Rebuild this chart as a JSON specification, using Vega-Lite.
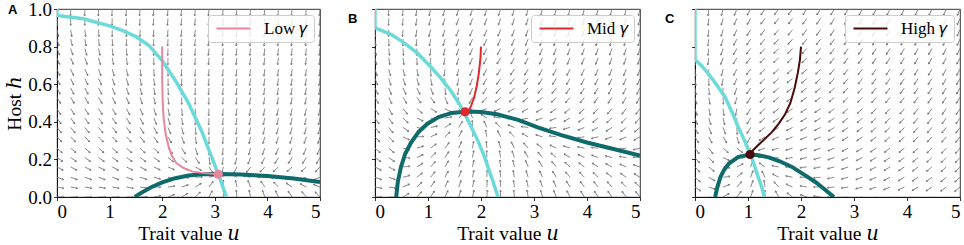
{
"$schema":"https://vega.github.io/schema/vega-lite/v6.json",
"background":"white",
"padding":{"left":4,"top":-1,"right":2,"bottom":0},
"bounds":"flush",
"spacing":55,
"config":{
 "view":{"stroke":"black","strokeWidth":0.8},
 "axis":{"labelFont":"Liberation Serif","labelFontSize":19,"titleFont":"Liberation Serif, DejaVu Serif","titleFontSize":19.5,"titleFontWeight":"normal","labelColor":"black","titleColor":"black","tickColor":"black","domainColor":"black","tickSize":3.5,"tickWidth":0.8,"domainWidth":0.8,"grid":false,"labelPadding":2,"titlePadding":3},
 "legend":{"orient":"top-right","offset":6,"padding":5,"fillColor":"rgba(255,255,255,0.8)","strokeColor":"#cccccc","cornerRadius":3,"labelFont":"Liberation Serif, DejaVu Serif","labelFontSize":17,"labelColor":"black","symbolStrokeWidth":2,"symbolType":"M-1,0L5.8,0","symbolSize":100,"labelOffset":34},
 "title":{"font":"Liberation Sans","fontSize":13,"fontWeight":"bold","anchor":"start","frame":"group","offset":-6,"baseline":"alphabetic","color":"black","dy":11}
},
"resolve":{"scale":{"color":"independent"},"legend":{"color":"independent"}},
"datasets":{
"cy":[
{"p":"A","i":0,"u":0,"h":1},{"p":"A","i":1,"u":0,"h":0.965},{"p":"A","i":2,"u":0.5,"h":0.948},{"p":"A","i":3,"u":1.0,"h":0.91},{"p":"A","i":4,"u":1.25,"h":0.885},{"p":"A","i":5,"u":1.5,"h":0.853},{"p":"A","i":6,"u":1.75,"h":0.805},{"p":"A","i":7,"u":2.0,"h":0.725},{"p":"A","i":8,"u":2.25,"h":0.62},{"p":"A","i":9,"u":2.5,"h":0.5},{"p":"A","i":10,"u":2.75,"h":0.35},{"p":"A","i":11,"u":3.0,"h":0.17},{"p":"A","i":12,"u":3.12,"h":0.08},{"p":"A","i":13,"u":3.22,"h":0},
{"p":"B","i":0,"u":0,"h":1},{"p":"B","i":1,"u":0,"h":0.9},{"p":"B","i":2,"u":0.3,"h":0.865},{"p":"B","i":3,"u":0.55,"h":0.82},{"p":"B","i":4,"u":0.8,"h":0.765},{"p":"B","i":5,"u":1.06,"h":0.69},{"p":"B","i":6,"u":1.25,"h":0.63},{"p":"B","i":7,"u":1.43,"h":0.565},{"p":"B","i":8,"u":1.58,"h":0.5},{"p":"B","i":9,"u":1.68,"h":0.45},{"p":"B","i":10,"u":1.82,"h":0.37},{"p":"B","i":11,"u":1.94,"h":0.3},{"p":"B","i":12,"u":2.05,"h":0.225},{"p":"B","i":13,"u":2.13,"h":0.16},{"p":"B","i":14,"u":2.23,"h":0.08},{"p":"B","i":15,"u":2.32,"h":0},
{"p":"C","i":0,"u":0,"h":1},{"p":"C","i":1,"u":0,"h":0.73},{"p":"C","i":2,"u":0.12,"h":0.7},{"p":"C","i":3,"u":0.25,"h":0.657},{"p":"C","i":4,"u":0.4,"h":0.6},{"p":"C","i":5,"u":0.57,"h":0.53},{"p":"C","i":6,"u":0.7,"h":0.45},{"p":"C","i":7,"u":0.82,"h":0.37},{"p":"C","i":8,"u":0.92,"h":0.31},{"p":"C","i":9,"u":1.01,"h":0.25},{"p":"C","i":10,"u":1.1,"h":0.185},{"p":"C","i":11,"u":1.17,"h":0.125},{"p":"C","i":12,"u":1.25,"h":0.06},{"p":"C","i":13,"u":1.31,"h":0}
],
"te":[
{"p":"A","i":0,"u":1.48,"h":0},{"p":"A","i":1,"u":1.6,"h":0.022},{"p":"A","i":2,"u":1.8,"h":0.053},{"p":"A","i":3,"u":2.0,"h":0.078},{"p":"A","i":4,"u":2.25,"h":0.1},{"p":"A","i":5,"u":2.5,"h":0.114},{"p":"A","i":6,"u":2.75,"h":0.121},{"p":"A","i":7,"u":3.1,"h":0.122},{"p":"A","i":8,"u":3.5,"h":0.12},{"p":"A","i":9,"u":4.0,"h":0.112},{"p":"A","i":10,"u":4.5,"h":0.098},{"p":"A","i":11,"u":5.0,"h":0.08},
{"p":"B","i":0,"u":0.4,"h":0},{"p":"B","i":1,"u":0.43,"h":0.08},{"p":"B","i":2,"u":0.49,"h":0.16},{"p":"B","i":3,"u":0.57,"h":0.23},{"p":"B","i":4,"u":0.68,"h":0.29},{"p":"B","i":5,"u":0.82,"h":0.345},{"p":"B","i":6,"u":0.99,"h":0.39},{"p":"B","i":7,"u":1.2,"h":0.425},{"p":"B","i":8,"u":1.45,"h":0.447},{"p":"B","i":9,"u":1.75,"h":0.455},{"p":"B","i":10,"u":2.0,"h":0.452},{"p":"B","i":11,"u":2.3,"h":0.44},{"p":"B","i":12,"u":2.7,"h":0.41},{"p":"B","i":13,"u":3.07,"h":0.37},{"p":"B","i":14,"u":3.5,"h":0.33},{"p":"B","i":15,"u":4.0,"h":0.29},{"p":"B","i":16,"u":4.5,"h":0.255},{"p":"B","i":17,"u":5.0,"h":0.22},
{"p":"C","i":0,"u":0.38,"h":0},{"p":"C","i":1,"u":0.42,"h":0.05},{"p":"C","i":2,"u":0.48,"h":0.107},{"p":"C","i":3,"u":0.55,"h":0.145},{"p":"C","i":4,"u":0.64,"h":0.178},{"p":"C","i":5,"u":0.82,"h":0.213},{"p":"C","i":6,"u":1.04,"h":0.226},{"p":"C","i":7,"u":1.2,"h":0.222},{"p":"C","i":8,"u":1.39,"h":0.211},{"p":"C","i":9,"u":1.6,"h":0.19},{"p":"C","i":10,"u":1.83,"h":0.16},{"p":"C","i":11,"u":2.05,"h":0.12},{"p":"C","i":12,"u":2.27,"h":0.08},{"p":"C","i":13,"u":2.45,"h":0.04},{"p":"C","i":14,"u":2.62,"h":0}
],
"tr":[
{"p":"A","g":"Low 𝛾","i":0,"u":2.0,"h":0.8},{"p":"A","g":"Low 𝛾","i":1,"u":2.0,"h":0.62},{"p":"A","g":"Low 𝛾","i":2,"u":2.01,"h":0.5},{"p":"A","g":"Low 𝛾","i":3,"u":2.03,"h":0.41},{"p":"A","g":"Low 𝛾","i":4,"u":2.07,"h":0.33},{"p":"A","g":"Low 𝛾","i":5,"u":2.12,"h":0.27},{"p":"A","g":"Low 𝛾","i":6,"u":2.18,"h":0.22},{"p":"A","g":"Low 𝛾","i":7,"u":2.27,"h":0.18},{"p":"A","g":"Low 𝛾","i":8,"u":2.4,"h":0.155},{"p":"A","g":"Low 𝛾","i":9,"u":2.58,"h":0.135},{"p":"A","g":"Low 𝛾","i":10,"u":2.8,"h":0.127},{"p":"A","g":"Low 𝛾","i":11,"u":3.065,"h":0.121},
{"p":"B","g":"Mid 𝛾","i":0,"u":2.0,"h":0.8},{"p":"B","g":"Mid 𝛾","i":1,"u":1.99,"h":0.74},{"p":"B","g":"Mid 𝛾","i":2,"u":1.96,"h":0.66},{"p":"B","g":"Mid 𝛾","i":3,"u":1.92,"h":0.59},{"p":"B","g":"Mid 𝛾","i":4,"u":1.87,"h":0.53},{"p":"B","g":"Mid 𝛾","i":5,"u":1.82,"h":0.49},{"p":"B","g":"Mid 𝛾","i":6,"u":1.78,"h":0.465},{"p":"B","g":"Mid 𝛾","i":7,"u":1.74,"h":0.455},{"p":"B","g":"Mid 𝛾","i":8,"u":1.7,"h":0.453},
{"p":"C","g":"High 𝛾","i":0,"u":2.0,"h":0.8},{"p":"C","g":"High 𝛾","i":1,"u":1.98,"h":0.73},{"p":"C","g":"High 𝛾","i":2,"u":1.94,"h":0.66},{"p":"C","g":"High 𝛾","i":3,"u":1.88,"h":0.58},{"p":"C","g":"High 𝛾","i":4,"u":1.8,"h":0.5},{"p":"C","g":"High 𝛾","i":5,"u":1.7,"h":0.44},{"p":"C","g":"High 𝛾","i":6,"u":1.58,"h":0.39},{"p":"C","g":"High 𝛾","i":7,"u":1.45,"h":0.345},{"p":"C","g":"High 𝛾","i":8,"u":1.3,"h":0.305},{"p":"C","g":"High 𝛾","i":9,"u":1.17,"h":0.27},{"p":"C","g":"High 𝛾","i":10,"u":1.08,"h":0.245},{"p":"C","g":"High 𝛾","i":11,"u":1.04,"h":0.226}
],
"eq":[{"p":"A","u":3.065,"h":0.121},{"p":"B","u":1.7,"h":0.453},{"p":"C","u":1.04,"h":0.226}],
"qA":[
{"u":0,"h":1,"a":180},{"u":0.26,"h":1,"a":181},{"u":0.53,"h":1,"a":182},{"u":0.79,"h":1,"a":182},{"u":1.05,"h":1,"a":183},{"u":1.32,"h":1,"a":184},{"u":1.58,"h":1,"a":185},{"u":1.84,"h":1,"a":185},{"u":2.11,"h":1,"a":185},{"u":2.37,"h":1,"a":185},{"u":2.63,"h":1,"a":185},{"u":2.89,"h":1,"a":185},{"u":3.16,"h":1,"a":185},{"u":3.42,"h":1,"a":185},{"u":3.68,"h":1,"a":185},{"u":3.95,"h":1,"a":185},{"u":4.21,"h":1,"a":185},{"u":4.47,"h":1,"a":185},{"u":4.74,"h":1,"a":185},{"u":5,"h":1,"a":185},
{"u":0,"h":0.95,"a":176},{"u":0.26,"h":0.95,"a":180},{"u":0.53,"h":0.95,"a":181},{"u":0.79,"h":0.95,"a":181},{"u":1.05,"h":0.95,"a":182},{"u":1.32,"h":0.95,"a":183},{"u":1.58,"h":0.95,"a":184},{"u":1.84,"h":0.95,"a":185},{"u":2.11,"h":0.95,"a":185},{"u":2.37,"h":0.95,"a":185},{"u":2.63,"h":0.95,"a":185},{"u":2.89,"h":0.95,"a":185},{"u":3.16,"h":0.95,"a":185},{"u":3.42,"h":0.95,"a":185},{"u":3.68,"h":0.95,"a":185},{"u":3.95,"h":0.95,"a":185},{"u":4.21,"h":0.95,"a":185},{"u":4.47,"h":0.95,"a":185},{"u":4.74,"h":0.95,"a":185},{"u":5,"h":0.95,"a":185},
{"u":0,"h":0.89,"a":167},{"u":0.26,"h":0.89,"a":171},{"u":0.53,"h":0.89,"a":174},{"u":0.79,"h":0.89,"a":177},{"u":1.05,"h":0.89,"a":180},{"u":1.32,"h":0.89,"a":181},{"u":1.58,"h":0.89,"a":182},{"u":1.84,"h":0.89,"a":183},{"u":2.11,"h":0.89,"a":184},{"u":2.37,"h":0.89,"a":185},{"u":2.63,"h":0.89,"a":186},{"u":2.89,"h":0.89,"a":186},{"u":3.16,"h":0.89,"a":186},{"u":3.42,"h":0.89,"a":186},{"u":3.68,"h":0.89,"a":186},{"u":3.95,"h":0.89,"a":186},{"u":4.21,"h":0.89,"a":186},{"u":4.47,"h":0.89,"a":186},{"u":4.74,"h":0.89,"a":186},{"u":5,"h":0.89,"a":186},
{"u":0,"h":0.84,"a":163},{"u":0.26,"h":0.84,"a":166},{"u":0.53,"h":0.84,"a":170},{"u":0.79,"h":0.84,"a":173},{"u":1.05,"h":0.84,"a":177},{"u":1.32,"h":0.84,"a":180},{"u":1.58,"h":0.84,"a":181},{"u":1.84,"h":0.84,"a":182},{"u":2.11,"h":0.84,"a":183},{"u":2.37,"h":0.84,"a":184},{"u":2.63,"h":0.84,"a":185},{"u":2.89,"h":0.84,"a":186},{"u":3.16,"h":0.84,"a":186},{"u":3.42,"h":0.84,"a":186},{"u":3.68,"h":0.84,"a":186},{"u":3.95,"h":0.84,"a":186},{"u":4.21,"h":0.84,"a":186},{"u":4.47,"h":0.84,"a":186},{"u":4.74,"h":0.84,"a":186},{"u":5,"h":0.84,"a":186},
{"u":0,"h":0.79,"a":159},{"u":0.26,"h":0.79,"a":161},{"u":0.53,"h":0.79,"a":165},{"u":0.79,"h":0.79,"a":168},{"u":1.05,"h":0.79,"a":172},{"u":1.32,"h":0.79,"a":176},{"u":1.58,"h":0.79,"a":180},{"u":1.84,"h":0.79,"a":181},{"u":2.11,"h":0.79,"a":182},{"u":2.37,"h":0.79,"a":183},{"u":2.63,"h":0.79,"a":184},{"u":2.89,"h":0.79,"a":186},{"u":3.16,"h":0.79,"a":186},{"u":3.42,"h":0.79,"a":186},{"u":3.68,"h":0.79,"a":186},{"u":3.95,"h":0.79,"a":186},{"u":4.21,"h":0.79,"a":186},{"u":4.47,"h":0.79,"a":186},{"u":4.74,"h":0.79,"a":186},{"u":5,"h":0.79,"a":186},
{"u":0,"h":0.74,"a":158},{"u":0.26,"h":0.74,"a":158},{"u":0.53,"h":0.74,"a":161},{"u":0.79,"h":0.74,"a":165},{"u":1.05,"h":0.74,"a":169},{"u":1.32,"h":0.74,"a":173},{"u":1.58,"h":0.74,"a":177},{"u":1.84,"h":0.74,"a":180},{"u":2.11,"h":0.74,"a":181},{"u":2.37,"h":0.74,"a":183},{"u":2.63,"h":0.74,"a":184},{"u":2.89,"h":0.74,"a":185},{"u":3.16,"h":0.74,"a":186},{"u":3.42,"h":0.74,"a":187},{"u":3.68,"h":0.74,"a":187},{"u":3.95,"h":0.74,"a":187},{"u":4.21,"h":0.74,"a":187},{"u":4.47,"h":0.74,"a":187},{"u":4.74,"h":0.74,"a":187},{"u":5,"h":0.74,"a":187},
{"u":0,"h":0.68,"a":156},{"u":0.26,"h":0.68,"a":156},{"u":0.53,"h":0.68,"a":156},{"u":0.79,"h":0.68,"a":160},{"u":1.05,"h":0.68,"a":164},{"u":1.32,"h":0.68,"a":168},{"u":1.58,"h":0.68,"a":172},{"u":1.84,"h":0.68,"a":176},{"u":2.11,"h":0.68,"a":180},{"u":2.37,"h":0.68,"a":182},{"u":2.63,"h":0.68,"a":183},{"u":2.89,"h":0.68,"a":184},{"u":3.16,"h":0.68,"a":186},{"u":3.42,"h":0.68,"a":187},{"u":3.68,"h":0.68,"a":187},{"u":3.95,"h":0.68,"a":187},{"u":4.21,"h":0.68,"a":187},{"u":4.47,"h":0.68,"a":187},{"u":4.74,"h":0.68,"a":187},{"u":5,"h":0.68,"a":187},
{"u":0,"h":0.63,"a":155},{"u":0.26,"h":0.63,"a":155},{"u":0.53,"h":0.63,"a":155},{"u":0.79,"h":0.63,"a":156},{"u":1.05,"h":0.63,"a":160},{"u":1.32,"h":0.63,"a":164},{"u":1.58,"h":0.63,"a":169},{"u":1.84,"h":0.63,"a":173},{"u":2.11,"h":0.63,"a":178},{"u":2.37,"h":0.63,"a":181},{"u":2.63,"h":0.63,"a":182},{"u":2.89,"h":0.63,"a":184},{"u":3.16,"h":0.63,"a":185},{"u":3.42,"h":0.63,"a":187},{"u":3.68,"h":0.63,"a":188},{"u":3.95,"h":0.63,"a":188},{"u":4.21,"h":0.63,"a":188},{"u":4.47,"h":0.63,"a":188},{"u":4.74,"h":0.63,"a":188},{"u":5,"h":0.63,"a":188},
{"u":0,"h":0.58,"a":153},{"u":0.26,"h":0.58,"a":153},{"u":0.53,"h":0.58,"a":153},{"u":0.79,"h":0.58,"a":153},{"u":1.05,"h":0.58,"a":157},{"u":1.32,"h":0.58,"a":161},{"u":1.58,"h":0.58,"a":166},{"u":1.84,"h":0.58,"a":170},{"u":2.11,"h":0.58,"a":176},{"u":2.37,"h":0.58,"a":180},{"u":2.63,"h":0.58,"a":182},{"u":2.89,"h":0.58,"a":184},{"u":3.16,"h":0.58,"a":185},{"u":3.42,"h":0.58,"a":187},{"u":3.68,"h":0.58,"a":188},{"u":3.95,"h":0.58,"a":189},{"u":4.21,"h":0.58,"a":189},{"u":4.47,"h":0.58,"a":189},{"u":4.74,"h":0.58,"a":189},{"u":5,"h":0.58,"a":189},
{"u":0,"h":0.53,"a":150},{"u":0.26,"h":0.53,"a":150},{"u":0.53,"h":0.53,"a":150},{"u":0.79,"h":0.53,"a":150},{"u":1.05,"h":0.53,"a":153},{"u":1.32,"h":0.53,"a":158},{"u":1.58,"h":0.53,"a":162},{"u":1.84,"h":0.53,"a":167},{"u":2.11,"h":0.53,"a":173},{"u":2.37,"h":0.53,"a":179},{"u":2.63,"h":0.53,"a":182},{"u":2.89,"h":0.53,"a":183},{"u":3.16,"h":0.53,"a":185},{"u":3.42,"h":0.53,"a":187},{"u":3.68,"h":0.53,"a":189},{"u":3.95,"h":0.53,"a":190},{"u":4.21,"h":0.53,"a":190},{"u":4.47,"h":0.53,"a":190},{"u":4.74,"h":0.53,"a":190},{"u":5,"h":0.53,"a":190},
{"u":0,"h":0.47,"a":148},{"u":0.26,"h":0.47,"a":148},{"u":0.53,"h":0.47,"a":148},{"u":0.79,"h":0.47,"a":148},{"u":1.05,"h":0.47,"a":148},{"u":1.32,"h":0.47,"a":152},{"u":1.58,"h":0.47,"a":157},{"u":1.84,"h":0.47,"a":161},{"u":2.11,"h":0.47,"a":167},{"u":2.37,"h":0.47,"a":174},{"u":2.63,"h":0.47,"a":181},{"u":2.89,"h":0.47,"a":183},{"u":3.16,"h":0.47,"a":185},{"u":3.42,"h":0.47,"a":187},{"u":3.68,"h":0.47,"a":189},{"u":3.95,"h":0.47,"a":191},{"u":4.21,"h":0.47,"a":192},{"u":4.47,"h":0.47,"a":192},{"u":4.74,"h":0.47,"a":192},{"u":5,"h":0.47,"a":192},
{"u":0,"h":0.42,"a":145},{"u":0.26,"h":0.42,"a":145},{"u":0.53,"h":0.42,"a":145},{"u":0.79,"h":0.42,"a":145},{"u":1.05,"h":0.42,"a":145},{"u":1.32,"h":0.42,"a":148},{"u":1.58,"h":0.42,"a":153},{"u":1.84,"h":0.42,"a":157},{"u":2.11,"h":0.42,"a":163},{"u":2.37,"h":0.42,"a":171},{"u":2.63,"h":0.42,"a":180},{"u":2.89,"h":0.42,"a":183},{"u":3.16,"h":0.42,"a":185},{"u":3.42,"h":0.42,"a":188},{"u":3.68,"h":0.42,"a":190},{"u":3.95,"h":0.42,"a":192},{"u":4.21,"h":0.42,"a":193},{"u":4.47,"h":0.42,"a":193},{"u":4.74,"h":0.42,"a":193},{"u":5,"h":0.42,"a":193},
{"u":0,"h":0.37,"a":141},{"u":0.26,"h":0.37,"a":141},{"u":0.53,"h":0.37,"a":141},{"u":0.79,"h":0.37,"a":141},{"u":1.05,"h":0.37,"a":141},{"u":1.32,"h":0.37,"a":143},{"u":1.58,"h":0.37,"a":148},{"u":1.84,"h":0.37,"a":151},{"u":2.11,"h":0.37,"a":157},{"u":2.37,"h":0.37,"a":165},{"u":2.63,"h":0.37,"a":176},{"u":2.89,"h":0.37,"a":182},{"u":3.16,"h":0.37,"a":185},{"u":3.42,"h":0.37,"a":188},{"u":3.68,"h":0.37,"a":191},{"u":3.95,"h":0.37,"a":193},{"u":4.21,"h":0.37,"a":196},{"u":4.47,"h":0.37,"a":196},{"u":4.74,"h":0.37,"a":196},{"u":5,"h":0.37,"a":195},
{"u":0,"h":0.32,"a":137},{"u":0.26,"h":0.32,"a":137},{"u":0.53,"h":0.32,"a":137},{"u":0.79,"h":0.32,"a":137},{"u":1.05,"h":0.32,"a":137},{"u":1.32,"h":0.32,"a":137},{"u":1.58,"h":0.32,"a":142},{"u":1.84,"h":0.32,"a":145},{"u":2.11,"h":0.32,"a":150},{"u":2.37,"h":0.32,"a":159},{"u":2.63,"h":0.32,"a":171},{"u":2.89,"h":0.32,"a":181},{"u":3.16,"h":0.32,"a":185},{"u":3.42,"h":0.32,"a":189},{"u":3.68,"h":0.32,"a":192},{"u":3.95,"h":0.32,"a":195},{"u":4.21,"h":0.32,"a":198},{"u":4.47,"h":0.32,"a":198},{"u":4.74,"h":0.32,"a":198},{"u":5,"h":0.32,"a":197},
{"u":0,"h":0.26,"a":131},{"u":0.26,"h":0.26,"a":131},{"u":0.53,"h":0.26,"a":131},{"u":0.79,"h":0.26,"a":131},{"u":1.05,"h":0.26,"a":131},{"u":1.32,"h":0.26,"a":131},{"u":1.58,"h":0.26,"a":134},{"u":1.84,"h":0.26,"a":135},{"u":2.11,"h":0.26,"a":140},{"u":2.37,"h":0.26,"a":148},{"u":2.63,"h":0.26,"a":161},{"u":2.89,"h":0.26,"a":180},{"u":3.16,"h":0.26,"a":186},{"u":3.42,"h":0.26,"a":191},{"u":3.68,"h":0.26,"a":195},{"u":3.95,"h":0.26,"a":200},{"u":4.21,"h":0.26,"a":203},{"u":4.47,"h":0.26,"a":204},{"u":4.74,"h":0.26,"a":204},{"u":5,"h":0.26,"a":203},
{"u":0,"h":0.21,"a":125},{"u":0.26,"h":0.21,"a":125},{"u":0.53,"h":0.21,"a":125},{"u":0.79,"h":0.21,"a":125},{"u":1.05,"h":0.21,"a":125},{"u":1.32,"h":0.21,"a":125},{"u":1.58,"h":0.21,"a":126},{"u":1.84,"h":0.21,"a":126},{"u":2.11,"h":0.21,"a":128},{"u":2.37,"h":0.21,"a":133},{"u":2.63,"h":0.21,"a":146},{"u":2.89,"h":0.21,"a":172},{"u":3.16,"h":0.21,"a":187},{"u":3.42,"h":0.21,"a":195},{"u":3.68,"h":0.21,"a":201},{"u":3.95,"h":0.21,"a":207},{"u":4.21,"h":0.21,"a":211},{"u":4.47,"h":0.21,"a":213},{"u":4.74,"h":0.21,"a":212},{"u":5,"h":0.21,"a":210},
{"u":0,"h":0.16,"a":118},{"u":0.26,"h":0.16,"a":118},{"u":0.53,"h":0.16,"a":118},{"u":0.79,"h":0.16,"a":118},{"u":1.05,"h":0.16,"a":118},{"u":1.32,"h":0.16,"a":118},{"u":1.58,"h":0.16,"a":118},{"u":1.84,"h":0.16,"a":115},{"u":2.11,"h":0.16,"a":114},{"u":2.37,"h":0.16,"a":115},{"u":2.63,"h":0.16,"a":120},{"u":2.89,"h":0.16,"a":147},{"u":3.16,"h":0.16,"a":190},{"u":3.42,"h":0.16,"a":206},{"u":3.68,"h":0.16,"a":216},{"u":3.95,"h":0.16,"a":223},{"u":4.21,"h":0.16,"a":227},{"u":4.47,"h":0.16,"a":228},{"u":4.74,"h":0.16,"a":227},{"u":5,"h":0.16,"a":223},
{"u":0,"h":0.105,"a":110},{"u":0.26,"h":0.105,"a":110},{"u":0.53,"h":0.105,"a":110},{"u":0.79,"h":0.105,"a":110},{"u":1.05,"h":0.105,"a":110},{"u":1.32,"h":0.105,"a":110},{"u":1.58,"h":0.105,"a":108},{"u":1.84,"h":0.105,"a":104},{"u":2.11,"h":0.105,"a":99},{"u":2.37,"h":0.105,"a":94},{"u":2.63,"h":0.105,"a":87},{"u":2.89,"h":0.105,"a":75},{"u":3.16,"h":0.105,"a":338},{"u":3.42,"h":0.105,"a":300},{"u":3.68,"h":0.105,"a":280},{"u":3.95,"h":0.105,"a":270},{"u":4.21,"h":0.105,"a":265},{"u":4.47,"h":0.105,"a":258},{"u":4.74,"h":0.105,"a":255},{"u":5,"h":0.105,"a":248},
{"u":0,"h":0.053,"a":100},{"u":0.26,"h":0.053,"a":100},{"u":0.53,"h":0.053,"a":100},{"u":0.79,"h":0.053,"a":100},{"u":1.05,"h":0.053,"a":100},{"u":1.32,"h":0.053,"a":100},{"u":1.58,"h":0.053,"a":98},{"u":1.84,"h":0.053,"a":90},{"u":2.11,"h":0.053,"a":82},{"u":2.37,"h":0.053,"a":72},{"u":2.63,"h":0.053,"a":58},{"u":2.89,"h":0.053,"a":37},{"u":3.16,"h":0.053,"a":0},{"u":3.42,"h":0.053,"a":349},{"u":3.68,"h":0.053,"a":338},{"u":3.95,"h":0.053,"a":326},{"u":4.21,"h":0.053,"a":316},{"u":4.47,"h":0.053,"a":304},{"u":4.74,"h":0.053,"a":298},{"u":5,"h":0.053,"a":292},
{"u":0,"h":0,"a":90},{"u":0.26,"h":0,"a":90},{"u":0.53,"h":0,"a":90},{"u":0.79,"h":0,"a":90},{"u":1.05,"h":0,"a":90},{"u":1.32,"h":0,"a":90},{"u":1.58,"h":0,"a":88},{"u":1.84,"h":0,"a":80},{"u":2.11,"h":0,"a":70},{"u":2.37,"h":0,"a":59},{"u":2.63,"h":0,"a":45},{"u":2.89,"h":0,"a":27},{"u":3.16,"h":0,"a":4},{"u":3.42,"h":0,"a":355},{"u":3.68,"h":0,"a":348},{"u":3.95,"h":0,"a":341},{"u":4.21,"h":0,"a":334},{"u":4.47,"h":0,"a":326},{"u":4.74,"h":0,"a":320},{"u":5,"h":0,"a":317}
],
"qB":[
{"u":0,"h":1,"a":180},{"u":0.26,"h":1,"a":182},{"u":0.53,"h":1,"a":185},{"u":0.79,"h":1,"a":188},{"u":1.05,"h":1,"a":192},{"u":1.32,"h":1,"a":196},{"u":1.58,"h":1,"a":198},{"u":1.84,"h":1,"a":198},{"u":2.11,"h":1,"a":198},{"u":2.37,"h":1,"a":198},{"u":2.63,"h":1,"a":197},{"u":2.89,"h":1,"a":196},{"u":3.16,"h":1,"a":196},{"u":3.42,"h":1,"a":195},{"u":3.68,"h":1,"a":195},{"u":3.95,"h":1,"a":194},{"u":4.21,"h":1,"a":194},{"u":4.47,"h":1,"a":194},{"u":4.74,"h":1,"a":193},{"u":5,"h":1,"a":193},
{"u":0,"h":0.95,"a":180},{"u":0.26,"h":0.95,"a":182},{"u":0.53,"h":0.95,"a":185},{"u":0.79,"h":0.95,"a":189},{"u":1.05,"h":0.95,"a":193},{"u":1.32,"h":0.95,"a":197},{"u":1.58,"h":0.95,"a":200},{"u":1.84,"h":0.95,"a":200},{"u":2.11,"h":0.95,"a":200},{"u":2.37,"h":0.95,"a":199},{"u":2.63,"h":0.95,"a":198},{"u":2.89,"h":0.95,"a":198},{"u":3.16,"h":0.95,"a":197},{"u":3.42,"h":0.95,"a":197},{"u":3.68,"h":0.95,"a":196},{"u":3.95,"h":0.95,"a":195},{"u":4.21,"h":0.95,"a":195},{"u":4.47,"h":0.95,"a":195},{"u":4.74,"h":0.95,"a":194},{"u":5,"h":0.95,"a":194},
{"u":0,"h":0.89,"a":179},{"u":0.26,"h":0.89,"a":181},{"u":0.53,"h":0.89,"a":185},{"u":0.79,"h":0.89,"a":189},{"u":1.05,"h":0.89,"a":194},{"u":1.32,"h":0.89,"a":198},{"u":1.58,"h":0.89,"a":202},{"u":1.84,"h":0.89,"a":202},{"u":2.11,"h":0.89,"a":202},{"u":2.37,"h":0.89,"a":202},{"u":2.63,"h":0.89,"a":200},{"u":2.89,"h":0.89,"a":200},{"u":3.16,"h":0.89,"a":199},{"u":3.42,"h":0.89,"a":198},{"u":3.68,"h":0.89,"a":198},{"u":3.95,"h":0.89,"a":197},{"u":4.21,"h":0.89,"a":196},{"u":4.47,"h":0.89,"a":196},{"u":4.74,"h":0.89,"a":195},{"u":5,"h":0.89,"a":195},
{"u":0,"h":0.84,"a":174},{"u":0.26,"h":0.84,"a":178},{"u":0.53,"h":0.84,"a":181},{"u":0.79,"h":0.84,"a":185},{"u":1.05,"h":0.84,"a":190},{"u":1.32,"h":0.84,"a":195},{"u":1.58,"h":0.84,"a":200},{"u":1.84,"h":0.84,"a":204},{"u":2.11,"h":0.84,"a":205},{"u":2.37,"h":0.84,"a":204},{"u":2.63,"h":0.84,"a":203},{"u":2.89,"h":0.84,"a":202},{"u":3.16,"h":0.84,"a":201},{"u":3.42,"h":0.84,"a":200},{"u":3.68,"h":0.84,"a":199},{"u":3.95,"h":0.84,"a":198},{"u":4.21,"h":0.84,"a":198},{"u":4.47,"h":0.84,"a":197},{"u":4.74,"h":0.84,"a":197},{"u":5,"h":0.84,"a":196},
{"u":0,"h":0.79,"a":170},{"u":0.26,"h":0.79,"a":174},{"u":0.53,"h":0.79,"a":177},{"u":0.79,"h":0.79,"a":182},{"u":1.05,"h":0.79,"a":187},{"u":1.32,"h":0.79,"a":192},{"u":1.58,"h":0.79,"a":198},{"u":1.84,"h":0.79,"a":203},{"u":2.11,"h":0.79,"a":207},{"u":2.37,"h":0.79,"a":207},{"u":2.63,"h":0.79,"a":205},{"u":2.89,"h":0.79,"a":204},{"u":3.16,"h":0.79,"a":203},{"u":3.42,"h":0.79,"a":202},{"u":3.68,"h":0.79,"a":201},{"u":3.95,"h":0.79,"a":200},{"u":4.21,"h":0.79,"a":199},{"u":4.47,"h":0.79,"a":199},{"u":4.74,"h":0.79,"a":198},{"u":5,"h":0.79,"a":198},
{"u":0,"h":0.74,"a":167},{"u":0.26,"h":0.74,"a":171},{"u":0.53,"h":0.74,"a":173},{"u":0.79,"h":0.74,"a":178},{"u":1.05,"h":0.74,"a":184},{"u":1.32,"h":0.74,"a":190},{"u":1.58,"h":0.74,"a":197},{"u":1.84,"h":0.74,"a":203},{"u":2.11,"h":0.74,"a":207},{"u":2.37,"h":0.74,"a":211},{"u":2.63,"h":0.74,"a":209},{"u":2.89,"h":0.74,"a":207},{"u":3.16,"h":0.74,"a":206},{"u":3.42,"h":0.74,"a":205},{"u":3.68,"h":0.74,"a":203},{"u":3.95,"h":0.74,"a":202},{"u":4.21,"h":0.74,"a":201},{"u":4.47,"h":0.74,"a":200},{"u":4.74,"h":0.74,"a":200},{"u":5,"h":0.74,"a":199},
{"u":0,"h":0.68,"a":162},{"u":0.26,"h":0.68,"a":166},{"u":0.53,"h":0.68,"a":167},{"u":0.79,"h":0.68,"a":170},{"u":1.05,"h":0.68,"a":178},{"u":1.32,"h":0.68,"a":187},{"u":1.58,"h":0.68,"a":194},{"u":1.84,"h":0.68,"a":202},{"u":2.11,"h":0.68,"a":208},{"u":2.37,"h":0.68,"a":212},{"u":2.63,"h":0.68,"a":214},{"u":2.89,"h":0.68,"a":211},{"u":3.16,"h":0.68,"a":210},{"u":3.42,"h":0.68,"a":208},{"u":3.68,"h":0.68,"a":207},{"u":3.95,"h":0.68,"a":205},{"u":4.21,"h":0.68,"a":204},{"u":4.47,"h":0.68,"a":203},{"u":4.74,"h":0.68,"a":202},{"u":5,"h":0.68,"a":201},
{"u":0,"h":0.63,"a":158},{"u":0.26,"h":0.63,"a":163},{"u":0.53,"h":0.63,"a":162},{"u":0.79,"h":0.63,"a":163},{"u":1.05,"h":0.63,"a":170},{"u":1.32,"h":0.63,"a":182},{"u":1.58,"h":0.63,"a":192},{"u":1.84,"h":0.63,"a":202},{"u":2.11,"h":0.63,"a":210},{"u":2.37,"h":0.63,"a":214},{"u":2.63,"h":0.63,"a":217},{"u":2.89,"h":0.63,"a":216},{"u":3.16,"h":0.63,"a":214},{"u":3.42,"h":0.63,"a":212},{"u":3.68,"h":0.63,"a":210},{"u":3.95,"h":0.63,"a":208},{"u":4.21,"h":0.63,"a":207},{"u":4.47,"h":0.63,"a":206},{"u":4.74,"h":0.63,"a":205},{"u":5,"h":0.63,"a":204},
{"u":0,"h":0.58,"a":154},{"u":0.26,"h":0.58,"a":159},{"u":0.53,"h":0.58,"a":156},{"u":0.79,"h":0.58,"a":154},{"u":1.05,"h":0.58,"a":159},{"u":1.32,"h":0.58,"a":174},{"u":1.58,"h":0.58,"a":189},{"u":1.84,"h":0.58,"a":203},{"u":2.11,"h":0.58,"a":213},{"u":2.37,"h":0.58,"a":219},{"u":2.63,"h":0.58,"a":221},{"u":2.89,"h":0.58,"a":223},{"u":3.16,"h":0.58,"a":220},{"u":3.42,"h":0.58,"a":218},{"u":3.68,"h":0.58,"a":215},{"u":3.95,"h":0.58,"a":212},{"u":4.21,"h":0.58,"a":211},{"u":4.47,"h":0.58,"a":209},{"u":4.74,"h":0.58,"a":208},{"u":5,"h":0.58,"a":207},
{"u":0,"h":0.53,"a":151},{"u":0.26,"h":0.53,"a":155},{"u":0.53,"h":0.53,"a":150},{"u":0.79,"h":0.53,"a":144},{"u":1.05,"h":0.53,"a":145},{"u":1.32,"h":0.53,"a":158},{"u":1.58,"h":0.53,"a":186},{"u":1.84,"h":0.53,"a":208},{"u":2.11,"h":0.53,"a":222},{"u":2.37,"h":0.53,"a":227},{"u":2.63,"h":0.53,"a":228},{"u":2.89,"h":0.53,"a":229},{"u":3.16,"h":0.53,"a":228},{"u":3.42,"h":0.53,"a":224},{"u":3.68,"h":0.53,"a":221},{"u":3.95,"h":0.53,"a":218},{"u":4.21,"h":0.53,"a":215},{"u":4.47,"h":0.53,"a":213},{"u":4.74,"h":0.53,"a":211},{"u":5,"h":0.53,"a":210},
{"u":0,"h":0.47,"a":148},{"u":0.26,"h":0.47,"a":150},{"u":0.53,"h":0.47,"a":142},{"u":0.79,"h":0.47,"a":130},{"u":1.05,"h":0.47,"a":121},{"u":1.32,"h":0.47,"a":119},{"u":1.58,"h":0.47,"a":149},{"u":1.84,"h":0.47,"a":238},{"u":2.11,"h":0.47,"a":250},{"u":2.37,"h":0.47,"a":248},{"u":2.63,"h":0.47,"a":243},{"u":2.89,"h":0.47,"a":241},{"u":3.16,"h":0.47,"a":240},{"u":3.42,"h":0.47,"a":235},{"u":3.68,"h":0.47,"a":230},{"u":3.95,"h":0.47,"a":226},{"u":4.21,"h":0.47,"a":223},{"u":4.47,"h":0.47,"a":220},{"u":4.74,"h":0.47,"a":218},{"u":5,"h":0.47,"a":216},
{"u":0,"h":0.42,"a":145},{"u":0.26,"h":0.42,"a":145},{"u":0.53,"h":0.42,"a":134},{"u":0.79,"h":0.42,"a":116},{"u":1.05,"h":0.42,"a":98},{"u":1.32,"h":0.42,"a":80},{"u":1.58,"h":0.42,"a":45},{"u":1.84,"h":0.42,"a":340},{"u":2.11,"h":0.42,"a":303},{"u":2.37,"h":0.42,"a":281},{"u":2.63,"h":0.42,"a":265},{"u":2.89,"h":0.42,"a":256},{"u":3.16,"h":0.42,"a":252},{"u":3.42,"h":0.42,"a":247},{"u":3.68,"h":0.42,"a":241},{"u":3.95,"h":0.42,"a":235},{"u":4.21,"h":0.42,"a":231},{"u":4.47,"h":0.42,"a":228},{"u":4.74,"h":0.42,"a":224},{"u":5,"h":0.42,"a":222},
{"u":0,"h":0.37,"a":141},{"u":0.26,"h":0.37,"a":141},{"u":0.53,"h":0.37,"a":125},{"u":0.79,"h":0.37,"a":101},{"u":1.05,"h":0.37,"a":79},{"u":1.32,"h":0.37,"a":57},{"u":1.58,"h":0.37,"a":31},{"u":1.84,"h":0.37,"a":358},{"u":2.11,"h":0.37,"a":336},{"u":2.37,"h":0.37,"a":315},{"u":2.63,"h":0.37,"a":292},{"u":2.89,"h":0.37,"a":277},{"u":3.16,"h":0.37,"a":268},{"u":3.42,"h":0.37,"a":262},{"u":3.68,"h":0.37,"a":255},{"u":3.95,"h":0.37,"a":247},{"u":4.21,"h":0.37,"a":242},{"u":4.47,"h":0.37,"a":237},{"u":4.74,"h":0.37,"a":233},{"u":5,"h":0.37,"a":230},
{"u":0,"h":0.32,"a":137},{"u":0.26,"h":0.32,"a":137},{"u":0.53,"h":0.32,"a":115},{"u":0.79,"h":0.32,"a":87},{"u":1.05,"h":0.32,"a":65},{"u":1.32,"h":0.32,"a":46},{"u":1.58,"h":0.32,"a":27},{"u":1.84,"h":0.32,"a":6},{"u":2.11,"h":0.32,"a":350},{"u":2.37,"h":0.32,"a":334},{"u":2.63,"h":0.32,"a":316},{"u":2.89,"h":0.32,"a":299},{"u":3.16,"h":0.32,"a":287},{"u":3.42,"h":0.32,"a":278},{"u":3.68,"h":0.32,"a":270},{"u":3.95,"h":0.32,"a":262},{"u":4.21,"h":0.32,"a":256},{"u":4.47,"h":0.32,"a":250},{"u":4.74,"h":0.32,"a":245},{"u":5,"h":0.32,"a":241},
{"u":0,"h":0.26,"a":131},{"u":0.26,"h":0.26,"a":131},{"u":0.53,"h":0.26,"a":104},{"u":0.79,"h":0.26,"a":74},{"u":1.05,"h":0.26,"a":53},{"u":1.32,"h":0.26,"a":37},{"u":1.58,"h":0.26,"a":23},{"u":1.84,"h":0.26,"a":9},{"u":2.11,"h":0.26,"a":356},{"u":2.37,"h":0.26,"a":345},{"u":2.63,"h":0.26,"a":333},{"u":2.89,"h":0.26,"a":319},{"u":3.16,"h":0.26,"a":307},{"u":3.42,"h":0.26,"a":296},{"u":3.68,"h":0.26,"a":288},{"u":3.95,"h":0.26,"a":281},{"u":4.21,"h":0.26,"a":275},{"u":4.47,"h":0.26,"a":268},{"u":4.74,"h":0.26,"a":262},{"u":5,"h":0.26,"a":257},
{"u":0,"h":0.21,"a":125},{"u":0.26,"h":0.21,"a":125},{"u":0.53,"h":0.21,"a":94},{"u":0.79,"h":0.21,"a":65},{"u":1.05,"h":0.21,"a":47},{"u":1.32,"h":0.21,"a":33},{"u":1.58,"h":0.21,"a":22},{"u":1.84,"h":0.21,"a":10},{"u":2.11,"h":0.21,"a":359},{"u":2.37,"h":0.21,"a":351},{"u":2.63,"h":0.21,"a":341},{"u":2.89,"h":0.21,"a":330},{"u":3.16,"h":0.21,"a":320},{"u":3.42,"h":0.21,"a":310},{"u":3.68,"h":0.21,"a":301},{"u":3.95,"h":0.21,"a":295},{"u":4.21,"h":0.21,"a":290},{"u":4.47,"h":0.21,"a":284},{"u":4.74,"h":0.21,"a":278},{"u":5,"h":0.21,"a":273},
{"u":0,"h":0.16,"a":118},{"u":0.26,"h":0.16,"a":118},{"u":0.53,"h":0.16,"a":84},{"u":0.79,"h":0.16,"a":58},{"u":1.05,"h":0.16,"a":42},{"u":1.32,"h":0.16,"a":30},{"u":1.58,"h":0.16,"a":21},{"u":1.84,"h":0.16,"a":11},{"u":2.11,"h":0.16,"a":1},{"u":2.37,"h":0.16,"a":354},{"u":2.63,"h":0.16,"a":347},{"u":2.89,"h":0.16,"a":338},{"u":3.16,"h":0.16,"a":329},{"u":3.42,"h":0.16,"a":320},{"u":3.68,"h":0.16,"a":312},{"u":3.95,"h":0.16,"a":307},{"u":4.21,"h":0.16,"a":303},{"u":4.47,"h":0.16,"a":298},{"u":4.74,"h":0.16,"a":293},{"u":5,"h":0.16,"a":288},
{"u":0,"h":0.105,"a":110},{"u":0.26,"h":0.105,"a":110},{"u":0.53,"h":0.105,"a":75},{"u":0.79,"h":0.105,"a":52},{"u":1.05,"h":0.105,"a":38},{"u":1.32,"h":0.105,"a":28},{"u":1.58,"h":0.105,"a":20},{"u":1.84,"h":0.105,"a":11},{"u":2.11,"h":0.105,"a":3},{"u":2.37,"h":0.105,"a":356},{"u":2.63,"h":0.105,"a":350},{"u":2.89,"h":0.105,"a":343},{"u":3.16,"h":0.105,"a":336},{"u":3.42,"h":0.105,"a":328},{"u":3.68,"h":0.105,"a":320},{"u":3.95,"h":0.105,"a":316},{"u":4.21,"h":0.105,"a":313},{"u":4.47,"h":0.105,"a":309},{"u":4.74,"h":0.105,"a":305},{"u":5,"h":0.105,"a":301},
{"u":0,"h":0.053,"a":100},{"u":0.26,"h":0.053,"a":100},{"u":0.53,"h":0.053,"a":65},{"u":0.79,"h":0.053,"a":46},{"u":1.05,"h":0.053,"a":35},{"u":1.32,"h":0.053,"a":26},{"u":1.58,"h":0.053,"a":19},{"u":1.84,"h":0.053,"a":12},{"u":2.11,"h":0.053,"a":4},{"u":2.37,"h":0.053,"a":358},{"u":2.63,"h":0.053,"a":353},{"u":2.89,"h":0.053,"a":347},{"u":3.16,"h":0.053,"a":341},{"u":3.42,"h":0.053,"a":335},{"u":3.68,"h":0.053,"a":328},{"u":3.95,"h":0.053,"a":324},{"u":4.21,"h":0.053,"a":321},{"u":4.47,"h":0.053,"a":319},{"u":4.74,"h":0.053,"a":316},{"u":5,"h":0.053,"a":313},
{"u":0,"h":0,"a":90},{"u":0.26,"h":0,"a":90},{"u":0.53,"h":0,"a":58},{"u":0.79,"h":0,"a":42},{"u":1.05,"h":0,"a":32},{"u":1.32,"h":0,"a":25},{"u":1.58,"h":0,"a":18},{"u":1.84,"h":0,"a":12},{"u":2.11,"h":0,"a":5},{"u":2.37,"h":0,"a":359},{"u":2.63,"h":0,"a":355},{"u":2.89,"h":0,"a":350},{"u":3.16,"h":0,"a":345},{"u":3.42,"h":0,"a":339},{"u":3.68,"h":0,"a":333},{"u":3.95,"h":0,"a":329},{"u":4.21,"h":0,"a":327},{"u":4.47,"h":0,"a":325},{"u":4.74,"h":0,"a":323},{"u":5,"h":0,"a":321}
],
"qC":[
{"u":0,"h":1,"a":180},{"u":0.26,"h":1,"a":186},{"u":0.53,"h":1,"a":194},{"u":0.79,"h":1,"a":202},{"u":1.05,"h":1,"a":209},{"u":1.32,"h":1,"a":214},{"u":1.58,"h":1,"a":217},{"u":1.84,"h":1,"a":216},{"u":2.11,"h":1,"a":214},{"u":2.37,"h":1,"a":213},{"u":2.63,"h":1,"a":211},{"u":2.89,"h":1,"a":210},{"u":3.16,"h":1,"a":209},{"u":3.42,"h":1,"a":208},{"u":3.68,"h":1,"a":207},{"u":3.95,"h":1,"a":206},{"u":4.21,"h":1,"a":205},{"u":4.47,"h":1,"a":204},{"u":4.74,"h":1,"a":203},{"u":5,"h":1,"a":203},
{"u":0,"h":0.95,"a":180},{"u":0.26,"h":0.95,"a":186},{"u":0.53,"h":0.95,"a":195},{"u":0.79,"h":0.95,"a":203},{"u":1.05,"h":0.95,"a":210},{"u":1.32,"h":0.95,"a":216},{"u":1.58,"h":0.95,"a":218},{"u":1.84,"h":0.95,"a":217},{"u":2.11,"h":0.95,"a":216},{"u":2.37,"h":0.95,"a":214},{"u":2.63,"h":0.95,"a":212},{"u":2.89,"h":0.95,"a":211},{"u":3.16,"h":0.95,"a":210},{"u":3.42,"h":0.95,"a":209},{"u":3.68,"h":0.95,"a":208},{"u":3.95,"h":0.95,"a":207},{"u":4.21,"h":0.95,"a":206},{"u":4.47,"h":0.95,"a":205},{"u":4.74,"h":0.95,"a":204},{"u":5,"h":0.95,"a":203},
{"u":0,"h":0.89,"a":180},{"u":0.26,"h":0.89,"a":186},{"u":0.53,"h":0.89,"a":196},{"u":0.79,"h":0.89,"a":205},{"u":1.05,"h":0.89,"a":212},{"u":1.32,"h":0.89,"a":218},{"u":1.58,"h":0.89,"a":221},{"u":1.84,"h":0.89,"a":219},{"u":2.11,"h":0.89,"a":218},{"u":2.37,"h":0.89,"a":216},{"u":2.63,"h":0.89,"a":214},{"u":2.89,"h":0.89,"a":213},{"u":3.16,"h":0.89,"a":211},{"u":3.42,"h":0.89,"a":210},{"u":3.68,"h":0.89,"a":209},{"u":3.95,"h":0.89,"a":208},{"u":4.21,"h":0.89,"a":207},{"u":4.47,"h":0.89,"a":206},{"u":4.74,"h":0.89,"a":205},{"u":5,"h":0.89,"a":204},
{"u":0,"h":0.84,"a":180},{"u":0.26,"h":0.84,"a":187},{"u":0.53,"h":0.84,"a":197},{"u":0.79,"h":0.84,"a":207},{"u":1.05,"h":0.84,"a":214},{"u":1.32,"h":0.84,"a":220},{"u":1.58,"h":0.84,"a":223},{"u":1.84,"h":0.84,"a":221},{"u":2.11,"h":0.84,"a":219},{"u":2.37,"h":0.84,"a":218},{"u":2.63,"h":0.84,"a":216},{"u":2.89,"h":0.84,"a":214},{"u":3.16,"h":0.84,"a":213},{"u":3.42,"h":0.84,"a":211},{"u":3.68,"h":0.84,"a":210},{"u":3.95,"h":0.84,"a":209},{"u":4.21,"h":0.84,"a":208},{"u":4.47,"h":0.84,"a":207},{"u":4.74,"h":0.84,"a":206},{"u":5,"h":0.84,"a":205},
{"u":0,"h":0.79,"a":180},{"u":0.26,"h":0.79,"a":187},{"u":0.53,"h":0.79,"a":198},{"u":0.79,"h":0.79,"a":209},{"u":1.05,"h":0.79,"a":217},{"u":1.32,"h":0.79,"a":223},{"u":1.58,"h":0.79,"a":225},{"u":1.84,"h":0.79,"a":224},{"u":2.11,"h":0.79,"a":221},{"u":2.37,"h":0.79,"a":219},{"u":2.63,"h":0.79,"a":217},{"u":2.89,"h":0.79,"a":216},{"u":3.16,"h":0.79,"a":214},{"u":3.42,"h":0.79,"a":213},{"u":3.68,"h":0.79,"a":211},{"u":3.95,"h":0.79,"a":210},{"u":4.21,"h":0.79,"a":209},{"u":4.47,"h":0.79,"a":208},{"u":4.74,"h":0.79,"a":207},{"u":5,"h":0.79,"a":206},
{"u":0,"h":0.74,"a":180},{"u":0.26,"h":0.74,"a":188},{"u":0.53,"h":0.74,"a":199},{"u":0.79,"h":0.74,"a":211},{"u":1.05,"h":0.74,"a":219},{"u":1.32,"h":0.74,"a":225},{"u":1.58,"h":0.74,"a":228},{"u":1.84,"h":0.74,"a":226},{"u":2.11,"h":0.74,"a":224},{"u":2.37,"h":0.74,"a":221},{"u":2.63,"h":0.74,"a":219},{"u":2.89,"h":0.74,"a":217},{"u":3.16,"h":0.74,"a":216},{"u":3.42,"h":0.74,"a":214},{"u":3.68,"h":0.74,"a":213},{"u":3.95,"h":0.74,"a":211},{"u":4.21,"h":0.74,"a":210},{"u":4.47,"h":0.74,"a":209},{"u":4.74,"h":0.74,"a":208},{"u":5,"h":0.74,"a":207},
{"u":0,"h":0.68,"a":176},{"u":0.26,"h":0.68,"a":183},{"u":0.53,"h":0.68,"a":194},{"u":0.79,"h":0.68,"a":207},{"u":1.05,"h":0.68,"a":217},{"u":1.32,"h":0.68,"a":225},{"u":1.58,"h":0.68,"a":229},{"u":1.84,"h":0.68,"a":229},{"u":2.11,"h":0.68,"a":227},{"u":2.37,"h":0.68,"a":224},{"u":2.63,"h":0.68,"a":221},{"u":2.89,"h":0.68,"a":219},{"u":3.16,"h":0.68,"a":218},{"u":3.42,"h":0.68,"a":216},{"u":3.68,"h":0.68,"a":214},{"u":3.95,"h":0.68,"a":213},{"u":4.21,"h":0.68,"a":212},{"u":4.47,"h":0.68,"a":210},{"u":4.74,"h":0.68,"a":209},{"u":5,"h":0.68,"a":208},
{"u":0,"h":0.63,"a":173},{"u":0.26,"h":0.63,"a":179},{"u":0.53,"h":0.63,"a":190},{"u":0.79,"h":0.63,"a":204},{"u":1.05,"h":0.63,"a":216},{"u":1.32,"h":0.63,"a":224},{"u":1.58,"h":0.63,"a":229},{"u":1.84,"h":0.63,"a":232},{"u":2.11,"h":0.63,"a":229},{"u":2.37,"h":0.63,"a":226},{"u":2.63,"h":0.63,"a":224},{"u":2.89,"h":0.63,"a":221},{"u":3.16,"h":0.63,"a":219},{"u":3.42,"h":0.63,"a":218},{"u":3.68,"h":0.63,"a":216},{"u":3.95,"h":0.63,"a":214},{"u":4.21,"h":0.63,"a":213},{"u":4.47,"h":0.63,"a":212},{"u":4.74,"h":0.63,"a":210},{"u":5,"h":0.63,"a":209},
{"u":0,"h":0.58,"a":170},{"u":0.26,"h":0.58,"a":175},{"u":0.53,"h":0.58,"a":184},{"u":0.79,"h":0.58,"a":200},{"u":1.05,"h":0.58,"a":214},{"u":1.32,"h":0.58,"a":224},{"u":1.58,"h":0.58,"a":229},{"u":1.84,"h":0.58,"a":233},{"u":2.11,"h":0.58,"a":232},{"u":2.37,"h":0.58,"a":229},{"u":2.63,"h":0.58,"a":226},{"u":2.89,"h":0.58,"a":224},{"u":3.16,"h":0.58,"a":221},{"u":3.42,"h":0.58,"a":219},{"u":3.68,"h":0.58,"a":218},{"u":3.95,"h":0.58,"a":216},{"u":4.21,"h":0.58,"a":214},{"u":4.47,"h":0.58,"a":213},{"u":4.74,"h":0.58,"a":212},{"u":5,"h":0.58,"a":210},
{"u":0,"h":0.53,"a":166},{"u":0.26,"h":0.53,"a":171},{"u":0.53,"h":0.53,"a":178},{"u":0.79,"h":0.53,"a":195},{"u":1.05,"h":0.53,"a":212},{"u":1.32,"h":0.53,"a":224},{"u":1.58,"h":0.53,"a":230},{"u":1.84,"h":0.53,"a":234},{"u":2.11,"h":0.53,"a":235},{"u":2.37,"h":0.53,"a":232},{"u":2.63,"h":0.53,"a":229},{"u":2.89,"h":0.53,"a":226},{"u":3.16,"h":0.53,"a":224},{"u":3.42,"h":0.53,"a":221},{"u":3.68,"h":0.53,"a":219},{"u":3.95,"h":0.53,"a":218},{"u":4.21,"h":0.53,"a":216},{"u":4.47,"h":0.53,"a":214},{"u":4.74,"h":0.53,"a":213},{"u":5,"h":0.53,"a":212},
{"u":0,"h":0.47,"a":162},{"u":0.26,"h":0.47,"a":167},{"u":0.53,"h":0.47,"a":173},{"u":0.79,"h":0.47,"a":191},{"u":1.05,"h":0.47,"a":212},{"u":1.32,"h":0.47,"a":226},{"u":1.58,"h":0.47,"a":233},{"u":1.84,"h":0.47,"a":236},{"u":2.11,"h":0.47,"a":238},{"u":2.37,"h":0.47,"a":236},{"u":2.63,"h":0.47,"a":232},{"u":2.89,"h":0.47,"a":229},{"u":3.16,"h":0.47,"a":227},{"u":3.42,"h":0.47,"a":224},{"u":3.68,"h":0.47,"a":222},{"u":3.95,"h":0.47,"a":220},{"u":4.21,"h":0.47,"a":218},{"u":4.47,"h":0.47,"a":216},{"u":4.74,"h":0.47,"a":215},{"u":5,"h":0.47,"a":213},
{"u":0,"h":0.42,"a":159},{"u":0.26,"h":0.42,"a":163},{"u":0.53,"h":0.42,"a":167},{"u":0.79,"h":0.42,"a":185},{"u":1.05,"h":0.42,"a":212},{"u":1.32,"h":0.42,"a":228},{"u":1.58,"h":0.42,"a":236},{"u":1.84,"h":0.42,"a":239},{"u":2.11,"h":0.42,"a":240},{"u":2.37,"h":0.42,"a":239},{"u":2.63,"h":0.42,"a":235},{"u":2.89,"h":0.42,"a":232},{"u":3.16,"h":0.42,"a":229},{"u":3.42,"h":0.42,"a":227},{"u":3.68,"h":0.42,"a":224},{"u":3.95,"h":0.42,"a":222},{"u":4.21,"h":0.42,"a":220},{"u":4.47,"h":0.42,"a":218},{"u":4.74,"h":0.42,"a":216},{"u":5,"h":0.42,"a":215},
{"u":0,"h":0.37,"a":155},{"u":0.26,"h":0.37,"a":158},{"u":0.53,"h":0.37,"a":160},{"u":0.79,"h":0.37,"a":177},{"u":1.05,"h":0.37,"a":212},{"u":1.32,"h":0.37,"a":232},{"u":1.58,"h":0.37,"a":240},{"u":1.84,"h":0.37,"a":243},{"u":2.11,"h":0.37,"a":243},{"u":2.37,"h":0.37,"a":243},{"u":2.63,"h":0.37,"a":238},{"u":2.89,"h":0.37,"a":235},{"u":3.16,"h":0.37,"a":232},{"u":3.42,"h":0.37,"a":229},{"u":3.68,"h":0.37,"a":227},{"u":3.95,"h":0.37,"a":224},{"u":4.21,"h":0.37,"a":222},{"u":4.47,"h":0.37,"a":220},{"u":4.74,"h":0.37,"a":218},{"u":5,"h":0.37,"a":216},
{"u":0,"h":0.32,"a":150},{"u":0.26,"h":0.32,"a":153},{"u":0.53,"h":0.32,"a":149},{"u":0.79,"h":0.32,"a":163},{"u":1.05,"h":0.32,"a":212},{"u":1.32,"h":0.32,"a":238},{"u":1.58,"h":0.32,"a":245},{"u":1.84,"h":0.32,"a":247},{"u":2.11,"h":0.32,"a":247},{"u":2.37,"h":0.32,"a":246},{"u":2.63,"h":0.32,"a":242},{"u":2.89,"h":0.32,"a":238},{"u":3.16,"h":0.32,"a":235},{"u":3.42,"h":0.32,"a":232},{"u":3.68,"h":0.32,"a":229},{"u":3.95,"h":0.32,"a":227},{"u":4.21,"h":0.32,"a":224},{"u":4.47,"h":0.32,"a":222},{"u":4.74,"h":0.32,"a":220},{"u":5,"h":0.32,"a":218},
{"u":0,"h":0.26,"a":144},{"u":0.26,"h":0.26,"a":144},{"u":0.53,"h":0.26,"a":132},{"u":0.79,"h":0.26,"a":128},{"u":1.05,"h":0.26,"a":210},{"u":1.32,"h":0.26,"a":251},{"u":1.58,"h":0.26,"a":254},{"u":1.84,"h":0.26,"a":253},{"u":2.11,"h":0.26,"a":251},{"u":2.37,"h":0.26,"a":250},{"u":2.63,"h":0.26,"a":247},{"u":2.89,"h":0.26,"a":243},{"u":3.16,"h":0.26,"a":239},{"u":3.42,"h":0.26,"a":236},{"u":3.68,"h":0.26,"a":233},{"u":3.95,"h":0.26,"a":230},{"u":4.21,"h":0.26,"a":227},{"u":4.47,"h":0.26,"a":225},{"u":4.74,"h":0.26,"a":222},{"u":5,"h":0.26,"a":220},
{"u":0,"h":0.21,"a":140},{"u":0.26,"h":0.21,"a":137},{"u":0.53,"h":0.21,"a":115},{"u":0.79,"h":0.21,"a":90},{"u":1.05,"h":0.21,"a":17},{"u":1.32,"h":0.21,"a":273},{"u":1.58,"h":0.21,"a":265},{"u":1.84,"h":0.21,"a":261},{"u":2.11,"h":0.21,"a":257},{"u":2.37,"h":0.21,"a":254},{"u":2.63,"h":0.21,"a":251},{"u":2.89,"h":0.21,"a":247},{"u":3.16,"h":0.21,"a":243},{"u":3.42,"h":0.21,"a":239},{"u":3.68,"h":0.21,"a":236},{"u":3.95,"h":0.21,"a":233},{"u":4.21,"h":0.21,"a":230},{"u":4.47,"h":0.21,"a":227},{"u":4.74,"h":0.21,"a":225},{"u":5,"h":0.21,"a":222},
{"u":0,"h":0.16,"a":136},{"u":0.26,"h":0.16,"a":129},{"u":0.53,"h":0.16,"a":98},{"u":0.79,"h":0.16,"a":64},{"u":1.05,"h":0.16,"a":20},{"u":1.32,"h":0.16,"a":306},{"u":1.58,"h":0.16,"a":280},{"u":1.84,"h":0.16,"a":270},{"u":2.11,"h":0.16,"a":263},{"u":2.37,"h":0.16,"a":258},{"u":2.63,"h":0.16,"a":255},{"u":2.89,"h":0.16,"a":251},{"u":3.16,"h":0.16,"a":247},{"u":3.42,"h":0.16,"a":243},{"u":3.68,"h":0.16,"a":239},{"u":3.95,"h":0.16,"a":236},{"u":4.21,"h":0.16,"a":233},{"u":4.47,"h":0.16,"a":230},{"u":4.74,"h":0.16,"a":227},{"u":5,"h":0.16,"a":225},
{"u":0,"h":0.105,"a":131},{"u":0.26,"h":0.105,"a":120},{"u":0.53,"h":0.105,"a":83},{"u":0.79,"h":0.105,"a":50},{"u":1.05,"h":0.105,"a":20},{"u":1.32,"h":0.105,"a":334},{"u":1.58,"h":0.105,"a":298},{"u":1.84,"h":0.105,"a":281},{"u":2.11,"h":0.105,"a":270},{"u":2.37,"h":0.105,"a":264},{"u":2.63,"h":0.105,"a":259},{"u":2.89,"h":0.105,"a":255},{"u":3.16,"h":0.105,"a":251},{"u":3.42,"h":0.105,"a":247},{"u":3.68,"h":0.105,"a":243},{"u":3.95,"h":0.105,"a":239},{"u":4.21,"h":0.105,"a":236},{"u":4.47,"h":0.105,"a":233},{"u":4.74,"h":0.105,"a":230},{"u":5,"h":0.105,"a":227},
{"u":0,"h":0.053,"a":124},{"u":0.26,"h":0.053,"a":108},{"u":0.53,"h":0.053,"a":69},{"u":0.79,"h":0.053,"a":41},{"u":1.05,"h":0.053,"a":20},{"u":1.32,"h":0.053,"a":352},{"u":1.58,"h":0.053,"a":318},{"u":1.84,"h":0.053,"a":295},{"u":2.11,"h":0.053,"a":280},{"u":2.37,"h":0.053,"a":271},{"u":2.63,"h":0.053,"a":265},{"u":2.89,"h":0.053,"a":261},{"u":3.16,"h":0.053,"a":256},{"u":3.42,"h":0.053,"a":252},{"u":3.68,"h":0.053,"a":247},{"u":3.95,"h":0.053,"a":243},{"u":4.21,"h":0.053,"a":240},{"u":4.47,"h":0.053,"a":236},{"u":4.74,"h":0.053,"a":233},{"u":5,"h":0.053,"a":230},
{"u":0,"h":0,"a":117},{"u":0.26,"h":0,"a":100},{"u":0.53,"h":0,"a":60},{"u":0.79,"h":0,"a":37},{"u":1.05,"h":0,"a":19},{"u":1.32,"h":0,"a":0},{"u":1.58,"h":0,"a":331},{"u":1.84,"h":0,"a":307},{"u":2.11,"h":0,"a":289},{"u":2.37,"h":0,"a":278},{"u":2.63,"h":0,"a":270},{"u":2.89,"h":0,"a":265},{"u":3.16,"h":0,"a":261},{"u":3.42,"h":0,"a":256},{"u":3.68,"h":0,"a":252},{"u":3.95,"h":0,"a":247},{"u":4.21,"h":0,"a":243},{"u":4.47,"h":0,"a":240},{"u":4.74,"h":0,"a":236},{"u":5,"h":0,"a":233}
]
},
"hconcat":[
{"width":263,"height":188,
 "title":{"text":"A","dx":-49},
 "encoding":{
  "x":{"field":"u","type":"quantitative","scale":{"domain":[0,5],"nice":false,"zero":false},"axis":{"values":[0,1,2,3,4,5],"format":"d","title":"Trait value 𝑢"}},
  "y":{"field":"h","type":"quantitative","scale":{"domain":[0,1],"nice":false},"axis":{"values":[0,0.2,0.4,0.6,0.8,1],"format":".1f","title":"Host ℎ"}}
 },
 "layer":[
  {"data":{"name":"qA"},"mark":{"type":"point","shape":"M0,0L0,-2M-0.25,-1.55L0,-2L0.25,-1.55","filled":false,"color":"#777777","strokeWidth":0.8,"size":49,"opacity":1,"clip":true},"encoding":{"angle":{"field":"a","type":"quantitative","scale":null}}},
  {"data":{"name":"te"},"transform":[{"filter":"datum.p==='A'"}],"mark":{"type":"line","color":"#0f6b6b","strokeWidth":4,"clip":true},"encoding":{"order":{"field":"i","type":"quantitative"}}},
  {"data":{"name":"cy"},"transform":[{"filter":"datum.p==='A'"}],"mark":{"type":"line","color":"#6ddada","strokeWidth":3.5,"clip":true},"encoding":{"order":{"field":"i","type":"quantitative"}}},
  {"data":{"name":"tr"},"transform":[{"filter":"datum.p==='A'"}],"mark":{"type":"line","strokeWidth":2,"clip":true},"encoding":{"order":{"field":"i","type":"quantitative"},"color":{"field":"g","type":"nominal","scale":{"range":["#e8869e"]},"legend":{"title":null}}}},
  {"data":{"name":"eq"},"transform":[{"filter":"datum.p==='A'"}],"mark":{"type":"point","shape":"circle","filled":true,"color":"#e8869e","size":85,"opacity":1}}
 ]
},
{"width":265,"height":188,
 "title":{"text":"B","dx":-27},
 "encoding":{
  "x":{"field":"u","type":"quantitative","scale":{"domain":[0,5],"nice":false,"zero":false},"axis":{"values":[0,1,2,3,4,5],"format":"d","title":"Trait value 𝑢"}},
  "y":{"field":"h","type":"quantitative","scale":{"domain":[0,1],"nice":false},"axis":{"values":[0,0.2,0.4,0.6,0.8,1],"labels":false,"title":null}}
 },
 "layer":[
  {"data":{"name":"qB"},"mark":{"type":"point","shape":"M0,0L0,-2M-0.25,-1.55L0,-2L0.25,-1.55","filled":false,"color":"#777777","strokeWidth":0.8,"size":49,"opacity":1,"clip":true},"encoding":{"angle":{"field":"a","type":"quantitative","scale":null}}},
  {"data":{"name":"te"},"transform":[{"filter":"datum.p==='B'"}],"mark":{"type":"line","color":"#0f6b6b","strokeWidth":4,"clip":true},"encoding":{"order":{"field":"i","type":"quantitative"}}},
  {"data":{"name":"cy"},"transform":[{"filter":"datum.p==='B'"}],"mark":{"type":"line","color":"#6ddada","strokeWidth":3.5,"clip":true},"encoding":{"order":{"field":"i","type":"quantitative"}}},
  {"data":{"name":"tr"},"transform":[{"filter":"datum.p==='B'"}],"mark":{"type":"line","strokeWidth":2,"clip":true},"encoding":{"order":{"field":"i","type":"quantitative"},"color":{"field":"g","type":"nominal","scale":{"range":["#e0282e"]},"legend":{"title":null}}}},
  {"data":{"name":"eq"},"transform":[{"filter":"datum.p==='B'"}],"mark":{"type":"point","shape":"circle","filled":true,"color":"#e0282e","size":85,"opacity":1}}
 ]
},
{"width":265,"height":188,
 "title":{"text":"C","dx":-30},
 "encoding":{
  "x":{"field":"u","type":"quantitative","scale":{"domain":[0,5],"nice":false,"zero":false},"axis":{"values":[0,1,2,3,4,5],"format":"d","title":"Trait value 𝑢"}},
  "y":{"field":"h","type":"quantitative","scale":{"domain":[0,1],"nice":false},"axis":{"values":[0,0.2,0.4,0.6,0.8,1],"labels":false,"title":null}}
 },
 "layer":[
  {"data":{"name":"qC"},"mark":{"type":"point","shape":"M0,0L0,-2M-0.25,-1.55L0,-2L0.25,-1.55","filled":false,"color":"#777777","strokeWidth":0.8,"size":49,"opacity":1,"clip":true},"encoding":{"angle":{"field":"a","type":"quantitative","scale":null}}},
  {"data":{"name":"te"},"transform":[{"filter":"datum.p==='C'"}],"mark":{"type":"line","color":"#0f6b6b","strokeWidth":4,"clip":true},"encoding":{"order":{"field":"i","type":"quantitative"}}},
  {"data":{"name":"cy"},"transform":[{"filter":"datum.p==='C'"}],"mark":{"type":"line","color":"#6ddada","strokeWidth":3.5,"clip":true},"encoding":{"order":{"field":"i","type":"quantitative"}}},
  {"data":{"name":"tr"},"transform":[{"filter":"datum.p==='C'"}],"mark":{"type":"line","strokeWidth":2,"clip":true},"encoding":{"order":{"field":"i","type":"quantitative"},"color":{"field":"g","type":"nominal","scale":{"range":["#4a0909"]},"legend":{"title":null}}}},
  {"data":{"name":"eq"},"transform":[{"filter":"datum.p==='C'"}],"mark":{"type":"point","shape":"circle","filled":true,"color":"#4a0909","size":85,"opacity":1}}
 ]
}
]
}
